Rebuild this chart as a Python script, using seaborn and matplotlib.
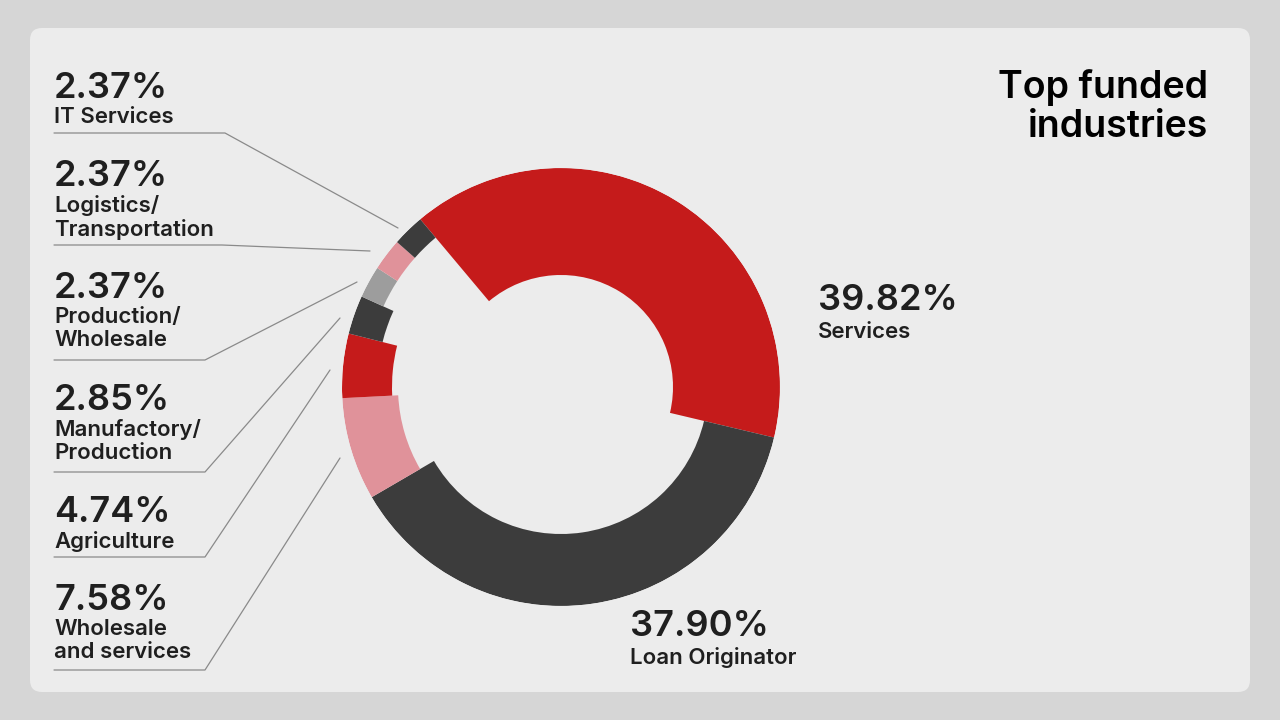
import numpy as np
import matplotlib
matplotlib.use("Agg")
import matplotlib.pyplot as plt
import seaborn as sns
from matplotlib.patches import FancyBboxPatch

sns.set_theme(style="white")
plt.rcParams['font.family'] = ['Inter', 'DejaVu Sans']

categories = ["Services", "Loan Originator", "Wholesale\nand services", "Agriculture",
              "Manufactory/\nProduction", "Production/\nWholesale", "Logistics/\nTransportation", "IT Services"]
shares = [39.82, 37.90, 7.58, 4.74, 2.85, 2.37, 2.37, 2.37]
inner_radius = [112, 147, 163, 169, 184, 195, 195, 195]
colors = ["#c51b1b", "#3c3c3c", "#e0929a", "#c51b1b", "#3c3c3c", "#9d9d9d", "#e0929a", "#3c3c3c"]
pct_labels = ["39.82%", "37.90%", "7.58%", "4.74%", "2.85%", "2.37%", "2.37%", "2.37%"]

W, H = 1280, 720
fig = plt.figure(figsize=(12.8, 7.2), dpi=100)
fig.patch.set_facecolor("#d6d6d6")
bg = fig.add_axes([0, 0, 1, 1]); bg.set_xlim(0, W); bg.set_ylim(H, 0); bg.axis("off")
bg.add_patch(FancyBboxPatch((30, 28), 1220, 664, boxstyle="round,pad=0,rounding_size=12",
                            fc="#ececec", ec="none"))

R = 219
cx, cy = 561, 387
ax = fig.add_axes([(cx - R) / W, (H - cy - R) / H, 2 * R / W, 2 * R / H], projection="polar")
ax.set_theta_zero_location("N")
ax.set_theta_direction(-1)
start = np.deg2rad(-40)
widths = np.array(shares) / 100 * 2 * np.pi
lefts = start + np.concatenate([[0], np.cumsum(widths)[:-1]])
ax.bar(lefts + widths / 2, [R - r for r in inner_radius], width=widths, bottom=inner_radius,
       color=colors, edgecolor="none", align="center")
ax.set_ylim(0, R)
ax.axis("off")
ax.patch.set_alpha(0)

# title
bg.text(1208, 88, "Top funded", ha="right", va="center", fontsize=27,
        fontweight="semibold", color="black")
bg.text(1208, 127, "industries", ha="right", va="center", fontsize=27,
        fontweight="semibold", color="black")

# right labels
bg.text(818, 300, pct_labels[0], fontsize=26, fontweight="semibold", color="#1f1f1f", va="center")
bg.text(818, 332, categories[0], fontsize=16, fontweight="semibold", color="#1f1f1f", va="center")
bg.text(630, 627, pct_labels[1], fontsize=26, fontweight="semibold", color="#1f1f1f", va="center")
bg.text(630, 658, categories[1], fontsize=16, fontweight="semibold", color="#1f1f1f", va="center")

left_idx = [7, 6, 5, 4, 3, 2]
pct_y = [88, 176, 288, 400, 512, 600]
line_y = [133, 245, 360, 472, 557, 670]
line_end = [225, 222, 205, 205, 205, 205]
targets = [(398, 228), (370, 251), (357, 282), (340, 318), (330, 370), (340, 458)]
for i, py, ly, le, tg in zip(left_idx, pct_y, line_y, line_end, targets):
    bg.text(54, py, pct_labels[i], fontsize=26, fontweight="semibold", color="#1f1f1f", va="center")
    bg.text(54, py + 19, categories[i], fontsize=16, fontweight="semibold", color="#1f1f1f",
            va="top", linespacing=1.2)
    bg.plot([54, le, tg[0]], [ly, ly, tg[1]], color="#8a8a8a", lw=0.9)

fig.savefig("out.png", dpi=100, facecolor=fig.get_facecolor())
